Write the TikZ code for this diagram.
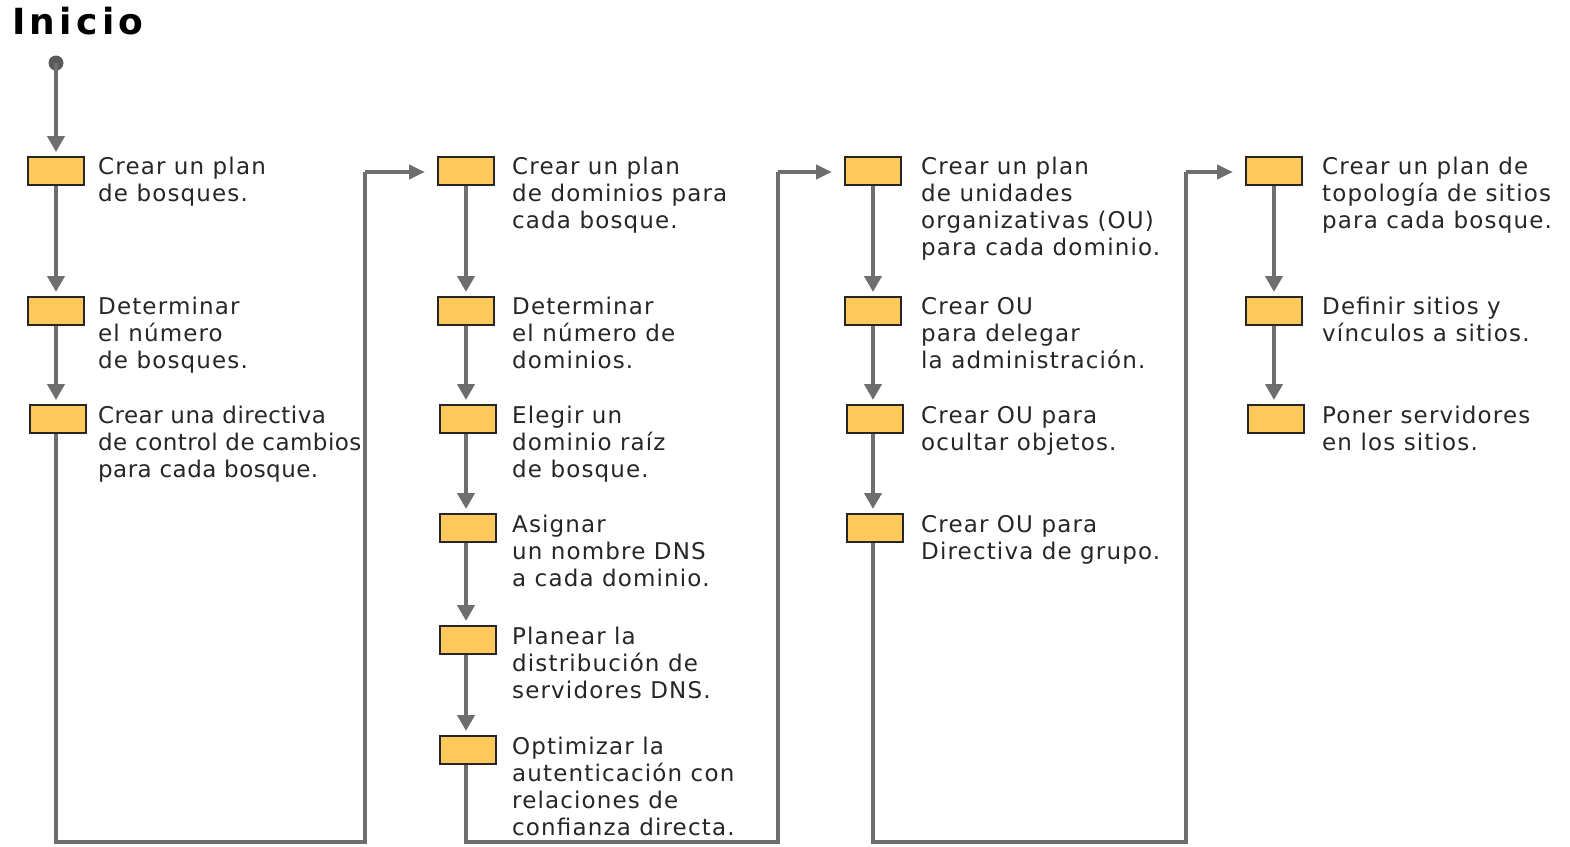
\documentclass[tikz,border=0pt]{standalone}
\usepackage{fontspec}
\newfontfamily\pasofont{DejaVu Sans}[LetterSpace=5]
\newfontfamily\pasoestrecho{DejaVu Sans}[LetterSpace=2]
\newfontfamily\titulofont{DejaVu Sans}[LetterSpace=12]
\usepackage{tikz}
\usetikzlibrary{arrows.meta, calc}
\definecolor{cCaja}{HTML}{FDC85C}
\definecolor{cBorde}{HTML}{262626}
\definecolor{cLinea}{HTML}{6E6E6E}
\definecolor{cPunto}{HTML}{5A5A5A}

\begin{document}
\begin{tikzpicture}[
    x=1pt, y=-1pt,
    caja/.style={draw=cBorde, line width=2pt, fill=cCaja, inner sep=0pt,
                 minimum width=56pt, minimum height=28pt},
    paso/.style={font=\pasofont\fontsize{23pt}{27pt}\selectfont, align=left,
                 inner sep=0pt, anchor=north west, text=black!85},
    pasoangosto/.style={paso, font=\pasoestrecho\fontsize{23pt}{27pt}\selectfont},
    flecha/.style={-{Triangle[length=16pt, width=17pt]}, line width=4.5pt,
                   cLinea, shorten >=4pt},
    lado/.style={-{Triangle[length=16pt, width=14pt]}, line width=4.5pt,
                 cLinea, shorten >=12pt},
    linea/.style={line width=4.5pt, cLinea, line join=miter},
]
\useasboundingbox (0,0) rectangle (1570,846);

% ===================== Titulo =====================
\node[font=\titulofont\bfseries\fontsize{36pt}{40pt}\selectfont, anchor=north west,
      inner sep=0pt] (inicio) at (12,7) {Inicio};
\fill[cPunto] (56,63) circle (7.5pt);
\coordinate (punto) at (56,63);

% ===================== Columna 1: bosques =====================
\node[caja] (b11) at (56,171) {};
\node[caja] (b12) at (56,311) {};
\node[caja] (b13) at (58,419) {};
\node[paso] (t11) at ([xshift=13pt, yshift=-1pt]b11.north east) {Crear un plan\\de bosques.};
\node[paso] (t12) at ([xshift=13pt, yshift=-1pt]b12.north east) {Determinar\\el número\\de bosques.};
\node[pasoangosto] (t13) at ([xshift=11pt, yshift=-2pt]b13.north east) {Crear una directiva\\de control de cambios\\para cada bosque.};

% ===================== Columna 2: dominios =====================
\node[caja] (b21) at (466,171) {};
\node[caja] (b22) at (466,311) {};
\node[caja] (b23) at (468,419) {};
\node[caja] (b24) at (468,528) {};
\node[caja] (b25) at (468,640) {};
\node[caja] (b26) at (468,750) {};
\node[paso] (t21) at ([xshift=17pt, yshift=-1pt]b21.north east) {Crear un plan\\de dominios para\\cada bosque.};
\node[paso] (t22) at ([xshift=17pt, yshift=-1pt]b22.north east) {Determinar\\el número de\\dominios.};
\node[paso] (t23) at ([xshift=15pt, yshift=-2pt]b23.north east) {Elegir un\\dominio raíz\\de bosque.};
\node[paso] (t24) at ([xshift=15pt, yshift=-2pt]b24.north east) {Asignar\\un nombre DNS\\a cada dominio.};
\node[paso] (t25) at ([xshift=15pt, yshift=-2pt]b25.north east) {Planear la\\distribución de\\servidores DNS.};
\node[paso] (t26) at ([xshift=15pt, yshift=-2pt]b26.north east) {Optimizar la\\autenticación con\\relaciones de\\confianza directa.};

% ===================== Columna 3: unidades organizativas =====================
\node[caja] (b31) at (873,171) {};
\node[caja] (b32) at (873,311) {};
\node[caja] (b33) at (875,419) {};
\node[caja] (b34) at (875,528) {};
\node[paso] (t31) at ([xshift=19pt, yshift=-1pt]b31.north east) {Crear un plan\\de unidades\\organizativas (OU)\\para cada dominio.};
\node[paso] (t32) at ([xshift=19pt, yshift=-1pt]b32.north east) {Crear OU\\para delegar\\la administración.};
\node[paso] (t33) at ([xshift=17pt, yshift=-2pt]b33.north east) {Crear OU para\\ocultar objetos.};
\node[paso] (t34) at ([xshift=17pt, yshift=-2pt]b34.north east) {Crear OU para\\Directiva de grupo.};

% ===================== Columna 4: sitios =====================
\node[caja] (b41) at (1274,171) {};
\node[caja] (b42) at (1274,311) {};
\node[caja] (b43) at (1276,419) {};
\node[paso] (t41) at ([xshift=19pt, yshift=-1pt]b41.north east) {Crear un plan de\\topología de sitios\\para cada bosque.};
\node[paso] (t42) at ([xshift=19pt, yshift=-1pt]b42.north east) {Definir sitios y\\vínculos a sitios.};
\node[paso] (t43) at ([xshift=17pt, yshift=-2pt]b43.north east) {Poner servidores\\en los sitios.};

% ===================== Esquinas de los retornos =====================
\coordinate (r1a) at (56,842);  \coordinate (r1b) at (365,842);  \coordinate (r1c) at (365,172);
\coordinate (r2a) at (468,842); \coordinate (r2b) at (778,842);  \coordinate (r2c) at (778,172);
\coordinate (r3a) at (875,842); \coordinate (r3b) at (1186,842); \coordinate (r3c) at (1186,172);

% ===================== Flechas =====================
\draw[flecha] (punto) -- (b11.north);
\draw[flecha] (b11.south) -- (b12.north);
\draw[flecha] (b12.south) -- (b13.north -| b12.south);
\draw[linea] (b13.south -| r1a) -- (r1a) -- (r1b) -- (r1c);
\draw[lado] (r1c) -- (b21.west |- r1c);

\draw[flecha] (b21.south) -- (b22.north);
\draw[flecha] (b22.south) -- (b23.north -| b22.south);
\draw[flecha] (b23.south -| b22.south) -- (b24.north -| b22.south);
\draw[flecha] (b24.south -| b22.south) -- (b25.north -| b22.south);
\draw[flecha] (b25.south -| b22.south) -- (b26.north -| b22.south);
\draw[linea] (b26.south -| b22.south) -- (b22.south |- r2a) -- (r2b) -- (r2c);
\draw[lado] (r2c) -- (b31.west |- r2c);

\draw[flecha] (b31.south) -- (b32.north);
\draw[flecha] (b32.south) -- (b33.north -| b32.south);
\draw[flecha] (b33.south -| b32.south) -- (b34.north -| b32.south);
\draw[linea] (b34.south -| b32.south) -- (b32.south |- r3a) -- (r3b) -- (r3c);
\draw[lado] (r3c) -- (b41.west |- r3c);

\draw[flecha] (b41.south) -- (b42.north);
\draw[flecha] (b42.south) -- (b43.north -| b42.south);

\end{tikzpicture}
\end{document}
